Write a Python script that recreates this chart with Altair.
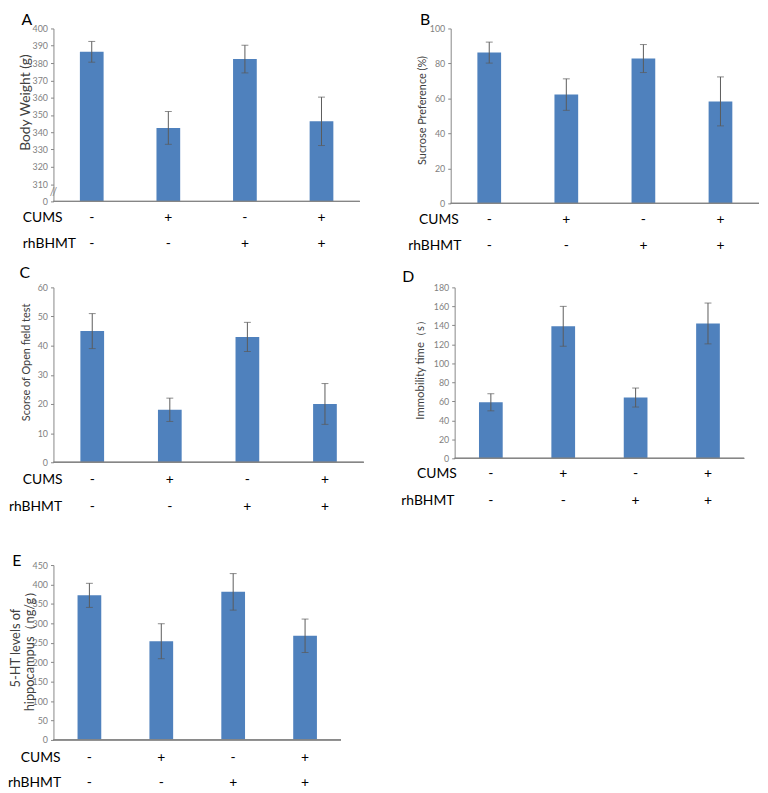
import altair as alt
import pandas as pd

groups = ["g1", "g2", "g3", "g4"]
cums = ["-", "+", "-", "+"]
rhbhmt = ["-", "-", "+", "+"]

a_mean = [386.5, 342.5, 382.3, 346.3]
a_err = [6, 9.5, 8, 14]
b_mean = [86.2, 62.2, 82.8, 58.3]
b_err = [6, 9, 8, 14]
c_mean = [45, 18, 43, 20]
c_err = [6, 4, 5, 7]
d_mean = [59, 139, 64, 142]
d_err = [9, 21, 10, 21.5]
e_mean = [372, 254, 381, 268]
e_err = [31, 45, 47, 43]

BAR = "#4F81BD"
FONT = "Lato"


def panel(letter, title, mean, err, dom, ticks, w, h, letter_xy, row_x, row_dy,
          title_x, title_dy, title_size, base=0, label_expr=None, brk=False):
    df = pd.DataFrame({
        "g": groups, "m": mean,
        "lo": [m - e for m, e in zip(mean, err)],
        "hi": [m + e for m, e in zip(mean, err)],
        "base": [base] * 4, "cums": cums, "rh": rhbhmt,
    })
    xenc = alt.X("g:N", sort=groups, axis=None,
                 scale=alt.Scale(paddingInner=0, paddingOuter=0))
    sc = alt.Scale(domain=dom, nice=False, zero=False)
    axis_kw = dict(values=ticks, grid=False, domainColor="#868686", tickColor="#868686",
                   tickSize=3, labelColor="#7f7f7f", labelFontSize=9, labelFont=FONT,
                   labelPadding=3, labelOverlap=False, labelFlush=False,
                   title=title, titleFont=FONT,
                   titleFontSize=title_size, titleFontWeight="normal", titleColor="#404040",
                   titleX=title_x, titleY=h / 2 + title_dy, titleLineHeight=14.5)
    if label_expr:
        axis_kw["labelExpr"] = label_expr

    def Y(field):
        return alt.Y(field, scale=sc, axis=alt.Axis(**axis_kw))

    base_ch = alt.Chart(df)
    bars = base_ch.mark_bar(color=BAR, size=24).encode(x=xenc, y=Y("m:Q"), y2="base:Q")
    xaxis = base_ch.mark_rule(color="#868686", strokeWidth=1).encode(
        x=alt.value(0), x2=alt.value(w), y=alt.value(h))
    rule = base_ch.mark_rule(color="#5a5a5a", strokeWidth=1).encode(
        x=xenc, y=Y("lo:Q"), y2="hi:Q")
    cap_hi = base_ch.mark_tick(color="#5a5a5a", size=7, thickness=1).encode(
        x=xenc, y=Y("hi:Q"))
    cap_lo = base_ch.mark_tick(color="#5a5a5a", size=7, thickness=1).encode(
        x=xenc, y=Y("lo:Q"))
    t1 = base_ch.mark_text(fontSize=14, font=FONT, color="black").encode(
        x=xenc, y=alt.value(h + row_dy[0]), text="cums:N")
    t2 = base_ch.mark_text(fontSize=14, font=FONT, color="black").encode(
        x=xenc, y=alt.value(h + row_dy[1]), text="rh:N")
    lab = pd.DataFrame({"t": ["CUMS", "rhBHMT", letter]})
    r1 = alt.Chart(lab.iloc[[0]]).mark_text(fontSize=14, font=FONT, align="left",
                                             color="black").encode(
        x=alt.value(row_x[0]), y=alt.value(h + row_dy[0]), text="t:N")
    r2 = alt.Chart(lab.iloc[[1]]).mark_text(fontSize=14, font=FONT, align="left",
                                             color="black").encode(
        x=alt.value(row_x[1]), y=alt.value(h + row_dy[1]), text="t:N")
    lt = alt.Chart(lab.iloc[[2]]).mark_text(fontSize=16, font=FONT, align="center",
                                             color="black").encode(
        x=alt.value(letter_xy[0]), y=alt.value(letter_xy[1]), text="t:N")
    layers = [bars, xaxis, rule, cap_hi, cap_lo, t1, t2, r1, r2, lt]
    if brk:
        bdf = pd.DataFrame({"v": [(ticks[0] + ticks[1]) / 2], "s": ["//"]})
        bk = alt.Chart(bdf).mark_text(fontSize=11, font=FONT, color="#868686").encode(
            x=alt.value(0), y=Y("v:Q"), text="s:N")
        layers.append(bk)
    return alt.layer(*layers).properties(width=w, height=h)


pA = panel("A", "Body Weight (g)", a_mean, a_err, [300, 400],
           list(range(300, 401, 10)), 310, 175, (-27, -9), (-31, -31), (17, 43),
           -21, -13, 14, base=300, label_expr="datum.value == 300 ? '0' : datum.label",
           brk=True)
pB = panel("B", "Sucrose Preference (%)", b_mean, b_err, [0, 100],
           list(range(0, 101, 20)), 312, 177, (-26, -9), (-32, -43), (17, 43), -23, -6, 11)
pC = panel("C", "Scorse of Open field test", c_mean, c_err, [0, 60],
           list(range(0, 61, 10)), 314, 177, (-29, -14), (-31, -45), (18, 45), -22, -13, 11)
pD = panel("D", "Immobility time（s）", d_mean, d_err, [0, 180],
           list(range(0, 181, 20)), 293, 173, (-47, -10), (-38, -54), (16, 43), -30, -6, 11.5)
pE = panel("E", ["5-HT levels of", "hippocampus（ng/g）"], e_mean, e_err, [0, 450],
           list(range(0, 451, 50)), 291, 177, (-37, -4), (-33, -46), (18, 44), -31.5, -5, 13)

row1 = alt.hconcat(pA, pB, spacing=48)
row2 = alt.hconcat(pC, pD, spacing=37)
top = alt.vconcat(row1, row2, spacing=13)
chart = alt.vconcat(top, pE, spacing=40).properties(
    padding={"left": 0, "top": -1, "right": 0, "bottom": 0}
).configure_view(stroke=None)

chart.save("out.html", embed_options={"renderer": "svg", "actions": False})
